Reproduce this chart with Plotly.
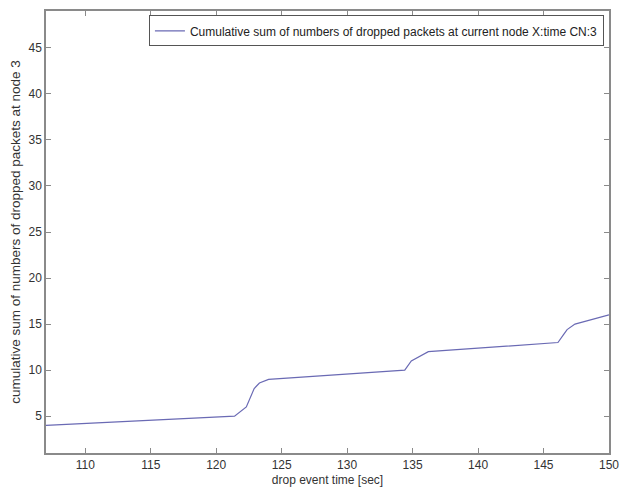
import plotly.graph_objects as go

# data
drop_time = [107.0, 121.4, 122.3, 122.9, 123.3, 124.0, 134.4, 134.9, 136.2, 146.1, 146.5, 146.8, 147.4, 150.0]
cum_drops = [4.0, 5.0, 6.0, 8.0, 8.6, 9.0, 10.0, 11.0, 12.0, 13.0, 13.8, 14.4, 15.0, 16.0]
x_ticks = [110, 115, 120, 125, 130, 135, 140, 145, 150]
y_ticks = [5, 10, 15, 20, 25, 30, 35, 40, 45]

FONT = "Liberation Sans, Arial, sans-serif"

fig = go.Figure()
fig.add_trace(go.Scatter(
    x=drop_time, y=cum_drops, mode="lines",
    line=dict(color="#6a6ab4", width=1.2),
    name="Cumulative sum of numbers of dropped packets at current node X:time CN:3",
    showlegend=True,
))

axis_common = dict(
    showgrid=False, zeroline=False,
    showline=True, linecolor="#8a8a8a", linewidth=1.5, mirror="ticks",
    ticks="inside", ticklen=5, tickcolor="#8a8a8a", tickwidth=1,
    tickfont=dict(family=FONT, size=12, color="#333333"),
)

# the page body has an 8px default margin, so the figure is 8px smaller
fig.update_layout(
    width=621, height=484,
    margin=dict(l=38, r=20, t=1, b=39),
    paper_bgcolor="white", plot_bgcolor="white",
    font=dict(family=FONT, size=12, color="#333333"),
    xaxis=dict(range=[107, 150], tickvals=x_ticks,
               title=dict(text="drop event time [sec]", standoff=4,
                          font=dict(family=FONT, size=12, color="#333333")),
               **axis_common),
    yaxis=dict(range=[1, 49], tickvals=y_ticks,
               title=dict(text="cumulative sum of numbers of dropped packets at node 3", standoff=6,
                          font=dict(family=FONT, size=13.5, color="#333333")),
               **axis_common),
    legend=dict(x=0.991, y=0.99, xanchor="right", yanchor="top",
                bgcolor="white", bordercolor="#555555", borderwidth=1,
                font=dict(family=FONT, size=12, color="#222222"),
                itemwidth=30, tracegroupgap=0),
)

fig.write_html("out.html")
